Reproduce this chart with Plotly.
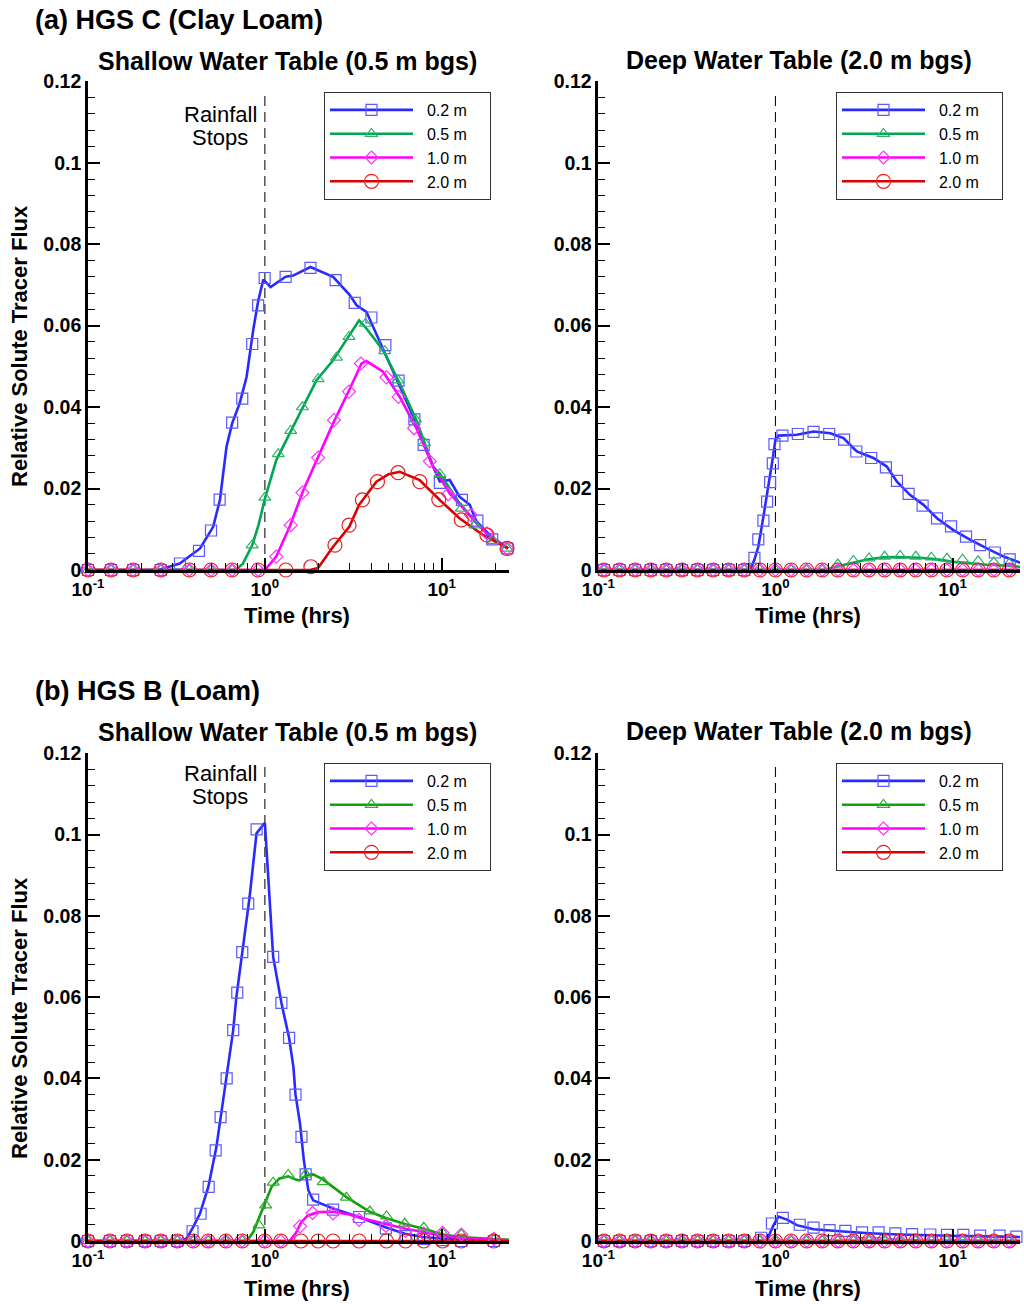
import plotly.graph_objects as go

FONT = "Arial, 'Liberation Sans', Helvetica, sans-serif"

# ---------------- DATA ----------------
DEPTH_LABELS = ["0.2 m", "0.5 m", "1.0 m", "2.0 m"]
RAIN_STOP_HR = 1.0
RAIN_LINE_TOP = 0.1167

# (a) HGS C - shallow water table
aS_blue_line_t = [0.1, 0.25, 0.33, 0.43, 0.51, 0.557, 0.607, 0.653, 0.72, 0.788, 0.859, 0.916, 0.98, 1.077, 1.31, 1.445, 1.81, 2.43, 3.02, 3.3, 3.75, 4.27, 4.87, 5.79, 7.19, 8.93, 9.75, 11.1, 12.6, 14.4, 15.7, 19.5, 23.7]
aS_blue_line_y = [0, 0, 0.0016, 0.0053, 0.0106, 0.0172, 0.0303, 0.036, 0.0409, 0.0474, 0.0589, 0.066, 0.0713, 0.0695, 0.072, 0.0723, 0.0744, 0.072, 0.0675, 0.065, 0.0634, 0.058, 0.0524, 0.045, 0.036, 0.0254, 0.0217, 0.0221, 0.018, 0.016, 0.0119, 0.0078, 0.0053]
aS_blue_mk_t = [0.1, 0.135, 0.18, 0.258, 0.331, 0.424, 0.496, 0.555, 0.653, 0.745, 0.848, 0.916, 0.997, 1.31, 1.81, 2.51, 3.22, 4.0, 4.8, 5.7, 7.0, 7.9, 9.75, 13.0, 15.9, 19.3, 23.5]
aS_blue_mk_y = [0, 0, 0, 0, 0.0016, 0.0047, 0.0097, 0.0173, 0.0362, 0.0421, 0.0555, 0.065, 0.0717, 0.072, 0.0742, 0.0712, 0.0656, 0.062, 0.0552, 0.0465, 0.037, 0.0307, 0.0214, 0.0172, 0.0121, 0.0075, 0.0053]

aS_green_line_t = [0.1, 0.68, 0.75, 0.85, 0.92, 1.0, 1.16, 1.38, 1.65, 1.96, 2.43, 2.89, 3.41, 3.75, 4.66, 5.79, 7.19, 8.93, 9.75, 12.6, 15.7, 19.5, 23.7]
aS_green_line_y = [0, 0, 0.0015, 0.0062, 0.011, 0.0175, 0.027, 0.0335, 0.0401, 0.0466, 0.0515, 0.0564, 0.0613, 0.0593, 0.054, 0.0458, 0.0368, 0.0254, 0.0237, 0.0164, 0.0115, 0.0074, 0.0053]
aS_green_mk_t = [0.1, 0.135, 0.18, 0.258, 0.374, 0.496, 0.653, 0.848, 1.0, 1.19, 1.40, 1.63, 2.0, 2.54, 2.99, 3.7, 4.76, 5.66, 7.1, 8.0, 9.75, 12.9, 15.4, 19.5, 23.4]
aS_green_mk_y = [0, 0, 0, 0, 0, 0, 0, 0.0061, 0.0178, 0.0285, 0.0342, 0.040, 0.0469, 0.0522, 0.0573, 0.0605, 0.0538, 0.0466, 0.037, 0.0312, 0.0236, 0.0151, 0.011, 0.0072, 0.0053]

aS_mag_line_t = [0.1, 1.0, 1.16, 1.38, 1.65, 2.05, 2.43, 3.0, 3.52, 3.75, 4.66, 5.79, 7.19, 8.93, 11.1, 13.8, 17.9, 23.7]
aS_mag_line_y = [0, 0, 0.0033, 0.0106, 0.0196, 0.0286, 0.036, 0.0442, 0.0507, 0.0513, 0.0487, 0.0425, 0.0348, 0.0254, 0.0188, 0.0143, 0.009, 0.0053]
aS_mag_mk_t = [0.1, 0.135, 0.18, 0.258, 0.374, 0.496, 0.653, 0.916, 1.16, 1.40, 1.63, 2.0, 2.46, 2.99, 3.49, 4.87, 5.7, 6.98, 8.56, 10.86, 14.6, 18.0, 23.4]
aS_mag_mk_y = [0, 0, 0, 0, 0, 0, 0, 0, 0.0033, 0.011, 0.019, 0.0276, 0.0368, 0.0438, 0.0507, 0.0473, 0.0425, 0.0348, 0.0267, 0.0186, 0.0135, 0.009, 0.0053]

aS_red_line_t = [0.1, 1.8, 2.0, 2.43, 3.0, 3.41, 3.75, 4.27, 5.0, 5.79, 7.5, 9.75, 12.6, 17.1, 23.7]
aS_red_line_y = [0, 0, 0.0005, 0.0057, 0.0106, 0.016, 0.0184, 0.0217, 0.0235, 0.0241, 0.0221, 0.0172, 0.0127, 0.0086, 0.0053]
aS_red_mk_t = [0.1, 0.135, 0.18, 0.258, 0.374, 0.496, 0.653, 0.916, 1.314, 1.82, 2.49, 2.99, 3.56, 4.33, 5.66, 7.51, 9.62, 12.9, 18.0, 23.4]
aS_red_mk_y = [0, 0, 0, 0, 0, 0, 0, 0, 0, 0.0008, 0.0061, 0.011, 0.0172, 0.0217, 0.0239, 0.0217, 0.0173, 0.0123, 0.0086, 0.0053]

# (a) HGS C - deep water table
deep_grid_t = [0.1076, 0.1318, 0.1614, 0.1977, 0.2421, 0.2965, 0.3631, 0.4446, 0.5445, 0.6668, 0.8166, 1.0, 1.2246, 1.4997, 1.8365, 2.249, 2.754, 3.373, 4.13, 5.058, 6.194, 7.586, 9.29, 11.38, 13.93, 17.06, 20.89]
deep_zero_y = [0] * 27
zero_line_t = [0.1, 24.0]
zero_line_y = [0, 0]

aD_blue_line_t = [0.1, 0.72, 0.76, 0.80, 0.855, 0.913, 0.962, 1.0, 1.04, 1.32, 1.64, 2.04, 2.42, 2.76, 2.88, 3.57, 4.25, 4.85, 5.76, 6.85, 8.16, 10.1, 12.6, 15.6, 19.4, 24.0]
aD_blue_line_y = [0, 0, 0.0025, 0.0057, 0.0131, 0.0205, 0.027, 0.032, 0.033, 0.0332, 0.034, 0.0336, 0.0324, 0.0299, 0.0291, 0.0275, 0.0254, 0.0217, 0.0184, 0.016, 0.0127, 0.0098, 0.0074, 0.0053, 0.0033, 0.0018]
aD_blue_mk_t = [0.1076, 0.1318, 0.1614, 0.1977, 0.2421, 0.2965, 0.3631, 0.4446, 0.5445, 0.6668, 0.761, 0.80, 0.855, 0.897, 0.933, 0.966, 0.987, 1.095, 1.337, 1.64, 2.01, 2.44, 2.86, 3.47, 4.20, 4.85, 5.64, 6.77, 8.16, 9.79, 11.9, 14.3, 17.3, 21.0]
aD_blue_mk_y = [0, 0, 0, 0, 0, 0, 0, 0, 0, 0, 0.003, 0.0075, 0.0121, 0.0168, 0.0216, 0.0262, 0.0309, 0.033, 0.0334, 0.0339, 0.0334, 0.032, 0.0291, 0.0275, 0.0252, 0.0219, 0.0187, 0.0158, 0.0127, 0.0107, 0.0082, 0.0061, 0.0043, 0.0026]

aD_green_line_t = [0.1, 1.9, 2.13, 2.64, 3.28, 4.08, 4.85, 6.56, 8.16, 10.1, 12.6, 15.6, 19.4, 24.0]
aD_green_line_y = [0, 0, 0.0007, 0.0016, 0.0026, 0.0031, 0.0032, 0.003, 0.0026, 0.002, 0.0016, 0.0013, 0.0011, 0.0008]
aD_green_mk_y = [0, 0, 0, 0, 0, 0, 0, 0, 0, 0, 0, 0, 0, 0, 0, 0.0014, 0.0023, 0.0029, 0.0033, 0.0035, 0.0033, 0.0031, 0.0028, 0.0026, 0.0022, 0.0019, 0.0016]

# (b) HGS B - shallow water table
bS_grid_t = [0.1, 0.133, 0.166, 0.21, 0.258, 0.32, 0.394, 0.478, 0.602, 0.745, 1.0, 1.23, 1.6, 2.0, 2.43, 3.41, 4.87, 6.24, 7.91, 10.1, 12.9, 19.7]
bS_zero_y = [0] * 22

bS_blue_line_t = [0.1, 0.33, 0.361, 0.393, 0.429, 0.479, 0.532, 0.607, 0.662, 0.69, 0.75, 0.82, 0.897, 1.0, 1.114, 1.24, 1.37, 1.45, 1.49, 1.58, 1.66, 1.76, 1.875, 2.43, 3.4, 4.81, 6.18, 7.85, 10.0, 24.0]
bS_blue_line_y = [0, 0, 0.0006, 0.0034, 0.0067, 0.0133, 0.0231, 0.040, 0.0519, 0.060, 0.0724, 0.0847, 0.1003, 0.1029, 0.0699, 0.0586, 0.0500, 0.0428, 0.0360, 0.0289, 0.0199, 0.0125, 0.0100, 0.0080, 0.0059, 0.0034, 0.0018, 0.0010, 0.0006, 0]
bS_blue_mk_t = [0.1, 0.133, 0.166, 0.21, 0.258, 0.32, 0.390, 0.433, 0.481, 0.527, 0.562, 0.608, 0.662, 0.698, 0.745, 0.805, 0.898, 1.114, 1.24, 1.37, 1.49, 1.61, 1.70, 1.875, 2.43, 3.41, 4.83, 6.24, 7.91, 10.1, 12.9, 19.7]
bS_blue_mk_y = [0, 0, 0, 0, 0, 0, 0.0024, 0.0067, 0.0133, 0.0223, 0.0305, 0.040, 0.0519, 0.0611, 0.0711, 0.083, 0.1013, 0.0699, 0.0586, 0.05, 0.036, 0.0256, 0.0164, 0.0102, 0.0077, 0.0059, 0.0031, 0.0012, 0.0005, 0.0002, 0, 0]

bS_green_line_t = [0.1, 0.79, 0.86, 0.978, 1.09, 1.21, 1.354, 1.5, 1.57, 1.71, 1.875, 2.14, 2.89, 3.92, 4.87, 6.18, 7.91, 10.1, 12.9, 19.7, 24.0]
bS_green_line_y = [0, 0, 0.0022, 0.008, 0.0133, 0.0154, 0.0159, 0.0151, 0.0149, 0.0162, 0.0164, 0.0151, 0.0108, 0.0072, 0.0056, 0.0042, 0.003, 0.0016, 0.001, 0.0005, 0.0003]
bS_green_mk_t = [0.1, 0.133, 0.166, 0.21, 0.258, 0.32, 0.394, 0.478, 0.602, 0.745, 0.925, 1.01, 1.114, 1.354, 1.70, 2.14, 2.89, 3.92, 4.87, 6.18, 7.91, 10.1, 12.9, 19.7]
bS_green_mk_y = [0, 0, 0, 0, 0, 0, 0, 0, 0, 0, 0.0039, 0.0088, 0.0144, 0.0163, 0.0164, 0.0145, 0.0107, 0.0073, 0.0061, 0.0043, 0.0033, 0.002, 0.0016, 0.0003]

bS_mag_line_t = [0.1, 1.38, 1.5, 1.6, 1.75, 2.0, 2.43, 3.0, 3.41, 4.83, 6.24, 7.91, 10.1, 12.9, 19.7, 24.0]
bS_mag_line_y = [0, 0, 0.002, 0.0045, 0.0063, 0.0071, 0.0072, 0.0065, 0.0058, 0.0042, 0.003, 0.0022, 0.0012, 0.0008, 0.0003, 0.0002]
bS_mag_mk_t = [0.1, 0.133, 0.166, 0.21, 0.258, 0.32, 0.394, 0.478, 0.602, 0.745, 1.0, 1.23, 1.58, 1.86, 2.43, 3.41, 4.83, 6.24, 7.91, 10.1, 12.9, 19.7]
bS_mag_mk_y = [0, 0, 0, 0, 0, 0, 0, 0, 0, 0, 0, 0, 0.0036, 0.0069, 0.0068, 0.0052, 0.0037, 0.0025, 0.0018, 0.002, 0.0016, 0.0005]

# (b) HGS B - deep water table
bD_blue_line_t = [0.1, 0.89, 0.975, 1.04, 1.17, 1.32, 1.64, 2.2, 2.64, 3.4, 5.0, 9.7, 18.6, 24.0]
bD_blue_line_y = [0, 0, 0.0039, 0.006, 0.0052, 0.0039, 0.0029, 0.0024, 0.0022, 0.0019, 0.0016, 0.0013, 0.0012, 0.001]
bD_blue_mk_t = [0.1076, 0.1318, 0.1614, 0.1977, 0.2421, 0.2965, 0.3631, 0.4446, 0.5445, 0.6668, 0.83, 0.955, 1.1, 1.37, 1.64, 2.02, 2.48, 3.08, 3.82, 4.75, 5.9, 7.48, 9.29, 11.5, 14.3, 18.4, 22.9]
bD_blue_mk_y = [0, 0, 0, 0, 0, 0, 0, 0, 0, 0, 0.0008, 0.0043, 0.0057, 0.004, 0.0033, 0.0027, 0.0025, 0.0021, 0.0021, 0.0019, 0.0017, 0.0016, 0.0015, 0.0015, 0.0013, 0.0013, 0.0011]

X_TICKS = [0.1, 1, 10]
X_TICK_TEXT = ["<b>10<sup>-1</sup></b>", "<b>10<sup>0</sup></b>", "<b>10<sup>1</sup></b>"]
X_MINOR = [0.2, 0.3, 0.4, 0.5, 0.6, 0.7, 0.8, 0.9, 2, 3, 4, 5, 6, 7, 8, 9, 20]
Y_TICKS = [0, 0.02, 0.04, 0.06, 0.08, 0.1, 0.12]
Y_TICK_TEXT = ["<b>0</b>", "<b>0.02</b>", "<b>0.04</b>", "<b>0.06</b>", "<b>0.08</b>", "<b>0.1</b>", "<b>0.12</b>"]

# ---------------- STYLE ----------------
COL_A = dict(blue=("#2a2aff", "#5a5aff"), green=("#00a651", "#2fb36c"),
             mag=("#ff00ff", "#ff33ff"), red=("#d80000", "#e82020"))
COL_B = dict(blue=("#2a2aff", "#5a5aff"), green=("#10a010", "#30b030"),
             mag=("#ff00ff", "#ff33ff"), red=("#d80000", "#e82020"))
SYM = dict(blue=("square-open", 11), green=("triangle-up-open", 10.5),
           mag=("diamond-open", 10), red=("circle-open", 14))
ORDER = ["blue", "green", "mag", "red"]

panels = [
    dict(ax="", leg="legend", cols=COL_A, series=dict(
        blue=(aS_blue_line_t, aS_blue_line_y, aS_blue_mk_t, aS_blue_mk_y),
        green=(aS_green_line_t, aS_green_line_y, aS_green_mk_t, aS_green_mk_y),
        mag=(aS_mag_line_t, aS_mag_line_y, aS_mag_mk_t, aS_mag_mk_y),
        red=(aS_red_line_t, aS_red_line_y, aS_red_mk_t, aS_red_mk_y))),
    dict(ax="2", leg="legend2", cols=COL_A, series=dict(
        blue=(aD_blue_line_t, aD_blue_line_y, aD_blue_mk_t, aD_blue_mk_y),
        green=(aD_green_line_t, aD_green_line_y, deep_grid_t, aD_green_mk_y),
        mag=(zero_line_t, zero_line_y, deep_grid_t, deep_zero_y),
        red=(zero_line_t, zero_line_y, deep_grid_t, deep_zero_y))),
    dict(ax="3", leg="legend3", cols=COL_B, series=dict(
        blue=(bS_blue_line_t, bS_blue_line_y, bS_blue_mk_t, bS_blue_mk_y),
        green=(bS_green_line_t, bS_green_line_y, bS_green_mk_t, bS_green_mk_y),
        mag=(bS_mag_line_t, bS_mag_line_y, bS_mag_mk_t, bS_mag_mk_y),
        red=(zero_line_t, zero_line_y, bS_grid_t, bS_zero_y))),
    dict(ax="4", leg="legend4", cols=COL_B, series=dict(
        blue=(bD_blue_line_t, bD_blue_line_y, bD_blue_mk_t, bD_blue_mk_y),
        green=(zero_line_t, zero_line_y, deep_grid_t, deep_zero_y),
        mag=(zero_line_t, zero_line_y, deep_grid_t, deep_zero_y),
        red=(zero_line_t, zero_line_y, deep_grid_t, deep_zero_y))),
]

fig = go.Figure()

for p in panels:
    xa, ya = "x" + p["ax"], "y" + p["ax"]
    # rainfall-stop dashed line
    fig.add_trace(go.Scatter(x=[RAIN_STOP_HR, RAIN_STOP_HR], y=[0, RAIN_LINE_TOP], mode="lines",
                             line=dict(color="#111111", width=1.1, dash="10px,6px"),
                             xaxis=xa, yaxis=ya, showlegend=False, hoverinfo="skip"))
    for key in ORDER:
        lt, ly, mt, my = p["series"][key]
        lc, mc = p["cols"][key]
        fig.add_trace(go.Scatter(x=lt, y=ly, mode="lines", line=dict(color=lc, width=2.6),
                                 xaxis=xa, yaxis=ya, showlegend=False, cliponaxis=False))
    for key in ORDER:
        lt, ly, mt, my = p["series"][key]
        lc, mc = p["cols"][key]
        sym, sz = SYM[key]
        fig.add_trace(go.Scatter(x=mt, y=my, mode="markers",
                                 marker=dict(symbol=sym, size=sz, color=mc, line=dict(width=1.2, color=mc)),
                                 xaxis=xa, yaxis=ya, showlegend=False, cliponaxis=False))
    for key, lab in zip(ORDER, DEPTH_LABELS):
        lc, mc = p["cols"][key]
        sym, sz = SYM[key]
        fig.add_trace(go.Scatter(x=[None], y=[None], mode="lines+markers",
                                 name="\u00a0\u00a0" + lab + "\u00a0\u00a0\u00a0\u00a0",
                                 line=dict(color=lc, width=2.6),
                                 marker=dict(symbol=sym, size=sz, color=mc, line=dict(width=1.2, color=mc)),
                                 xaxis=xa, yaxis=ya, legend=p["leg"], showlegend=True))

XL = [88 / 1024, 509 / 1024]
XR = [598.3 / 1024, 1020 / 1024]
YA = [1 - 570 / 1304, 1 - 81.3 / 1304]
YB = [1 - 1241 / 1304, 1 - 753.3 / 1304]


def xaxis(domain, anchor):
    return dict(type="log", range=[-1, 1.3802], domain=domain, anchor=anchor,
                showline=True, linecolor="black", linewidth=2.6, mirror=False,
                ticks="inside", ticklen=12, tickwidth=2, tickcolor="black",
                tickmode="array", tickvals=X_TICKS, ticktext=X_TICK_TEXT,
                tickfont=dict(family=FONT, size=19, color="black"),
                showgrid=False, zeroline=False, automargin=False,
                minor=dict(tickmode="array", tickvals=X_MINOR, ticks="inside", ticklen=7,
                           tickwidth=1, tickcolor="black", showgrid=False))


def yaxis(domain, anchor):
    return dict(range=[0, 0.12], domain=domain, anchor=anchor,
                showline=True, linecolor="black", linewidth=2.6, mirror=False,
                ticks="inside", ticklen=12, tickwidth=2, tickcolor="black",
                tickmode="array", tickvals=Y_TICKS, ticktext=Y_TICK_TEXT,
                tickfont=dict(family=FONT, size=19.5, color="black"),
                showgrid=False, zeroline=False, automargin=False,
                minor=dict(dtick=0.004, tick0=0, ticks="inside", ticklen=7,
                           tickwidth=1, tickcolor="black", showgrid=False))


def legend(x, y):
    return dict(x=x, y=y, xanchor="left", yanchor="top", xref="paper", yref="paper",
                bgcolor="white", bordercolor="#333333", borderwidth=1,
                font=dict(family=FONT, size=16, color="black"),
                itemwidth=83, tracegroupgap=0, itemclick=False, itemdoubleclick=False)


def ann(text, x, y, size, xanchor="center", angle=0, bold=True):
    t = "<b>" + text + "</b>" if bold else text
    return dict(text=t, x=x, y=y, xref="paper", yref="paper", xanchor=xanchor, yanchor="middle",
                showarrow=False, textangle=angle, font=dict(family=FONT, size=size, color="black"))


annotations = [
    ann("(a) HGS C (Clay Loam)", 33 / 1024, 1 - 20 / 1304, 27, xanchor="left"),
    ann("(b) HGS B (Loam)", 33 / 1024, 1 - 691 / 1304, 27, xanchor="left"),
    ann("Shallow Water Table (0.5 m bgs)", 287.5 / 1024, 1 - 61 / 1304, 25),
    ann("Deep Water Table (2.0 m bgs)", 798.8 / 1024, 1 - 60 / 1304, 25),
    ann("Shallow Water Table (0.5 m bgs)", 287.5 / 1024, 1 - 732 / 1304, 25),
    ann("Deep Water Table (2.0 m bgs)", 798.8 / 1024, 1 - 731 / 1304, 25),
    ann("Time (hrs)", 297 / 1024, 1 - 616 / 1304, 22),
    ann("Time (hrs)", 808 / 1024, 1 - 616 / 1304, 22),
    ann("Time (hrs)", 297 / 1024, 1 - 1288 / 1304, 22),
    ann("Time (hrs)", 808 / 1024, 1 - 1288 / 1304, 22),
    ann("Relative Solute Tracer Flux", 19 / 1024, 1 - 346 / 1304, 22, angle=-90),
    ann("Relative Solute Tracer Flux", 19 / 1024, 1 - 1018 / 1304, 22, angle=-90),
    ann("Rainfall", 220 / 1024, 1 - 114 / 1304, 22, bold=False),
    ann("Stops", 220 / 1024, 1 - 137 / 1304, 22, bold=False),
    ann("Rainfall", 220 / 1024, 1 - 773.5 / 1304, 22, bold=False),
    ann("Stops", 220 / 1024, 1 - 796.5 / 1304, 22, bold=False),
]

fig.update_layout(
    width=1024, height=1304, margin=dict(l=0, r=0, t=0, b=0),
    paper_bgcolor="white", plot_bgcolor="white", showlegend=True,
    font=dict(family=FONT, color="black"),
    xaxis=xaxis(XL, "y"), yaxis=yaxis(YA, "x"),
    xaxis2=xaxis(XR, "y2"), yaxis2=yaxis(YA, "x2"),
    xaxis3=xaxis(XL, "y3"), yaxis3=yaxis(YB, "x3"),
    xaxis4=xaxis(XR, "y4"), yaxis4=yaxis(YB, "x4"),
    legend=legend(324 / 1024, 1 - 92 / 1304),
    legend2=legend(836 / 1024, 1 - 92 / 1304),
    legend3=legend(324 / 1024, 1 - 763 / 1304),
    legend4=legend(836 / 1024, 1 - 763 / 1304),
    annotations=annotations,
)

fig.write_html("out.html")
